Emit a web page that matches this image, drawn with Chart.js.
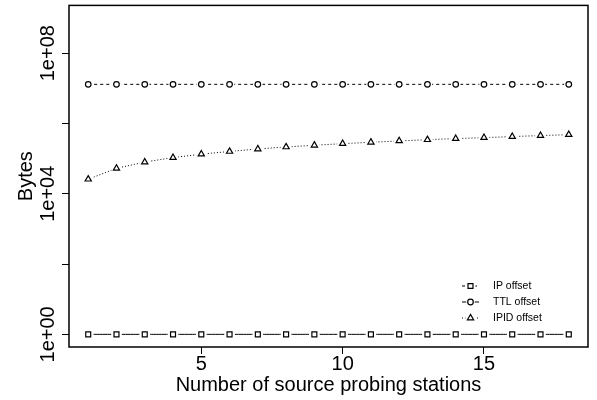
<!DOCTYPE html>
<html lang="en">
<head>
<meta charset="UTF-8">
<title>Bytes vs number of source probing stations</title>
<script src="https://cdn.jsdelivr.net/npm/chart.js@4.4.1/dist/chart.umd.min.js"></script>
<style>
    html, body { margin: 0; padding: 0; background: #fff; }
    #wrap { width: 597px; height: 400px; }
</style>
</head>
<body>
<div id="wrap"><canvas id="bytesChart" width="597" height="400"></canvas></div>
<script>
// data
const stations = [1, 2, 3, 4, 5, 6, 7, 8, 9, 10, 11, 12, 13, 14, 15, 16, 17, 18];
const ipOffset = [1, 1, 1, 1, 1, 1, 1, 1, 1, 1, 1, 1, 1, 1, 1, 1, 1, 1];
const ttlOffset = [1.3e7, 1.3e7, 1.3e7, 1.3e7, 1.3e7, 1.3e7, 1.3e7, 1.3e7, 1.3e7,
                   1.3e7, 1.3e7, 1.3e7, 1.3e7, 1.3e7, 1.3e7, 1.3e7, 1.3e7, 1.3e7];
const ipidOffset = [26000, 53000, 80000, 107000, 134000, 160000, 188000, 215000, 240000,
                    267000, 292000, 319000, 346000, 372000, 395000, 425000, 452000, 482000];
const xTicks = [5, 10, 15];
const yTicks = [1, 1e2, 1e4, 1e6, 1e8];
const yTickLabels = ['1e+00', '', '1e+04', '', '1e+08'];
const seriesNames = ['IP offset', 'TTL offset', 'IPID offset'];

const FONT = "'Liberation Sans', Arial, Helvetica, sans-serif";

function toPoints(values) {
    return stations.map((s, i) => ({ x: s, y: values[i] }));
}

// line, white halo (R type="b" gap), then the open marker on top
function series(name, values, style, dash, radius) {
    const pts = toPoints(values);
    return [
        { label: name, data: pts, borderColor: '#000', borderWidth: 1, borderDash: dash,
          tension: 0.0001, pointRadius: 0, fill: false, order: 3 },
        { label: name + ' halo', data: pts, showLine: false, pointStyle: 'circle',
          pointRadius: radius + 1.8, pointBackgroundColor: '#fff', pointBorderWidth: 0, order: 2 },
        { label: name + ' pts', data: pts, showLine: false, pointStyle: style,
          pointRadius: radius, pointBackgroundColor: '#fff', pointBorderColor: '#000',
          pointBorderWidth: 1.2, order: 1 }
    ];
}

const boxPlugin = {
    id: 'box',
    afterDraw(chart) {
        const a = chart.chartArea, ctx = chart.ctx;
        ctx.save();
        ctx.strokeStyle = '#000';
        ctx.lineWidth = 1.5;
        ctx.strokeRect(a.left, a.top, a.right - a.left, a.bottom - a.top);
        ctx.restore();
    }
};

// legend as drawn in R (bty="n"), lower right inside the plot
const legendStyles = [
    { style: 'rect', dash: [3, 3], radius: 3.5 },
    { style: 'circle', dash: [], radius: 2.8 },
    { style: 'triangle', dash: [1, 2], radius: 3.6 }
];
const legendPlugin = {
    id: 'rlegend',
    afterDraw(chart) {
        const ctx = chart.ctx;
        ctx.save();
        seriesNames.forEach((name, i) => {
            const y = 286 + i * 16;
            const st = legendStyles[i];
            ctx.strokeStyle = '#000';
            ctx.lineWidth = 1;
            ctx.setLineDash(st.dash);
            ctx.beginPath();
            ctx.moveTo(462, y);
            ctx.lineTo(479, y);
            ctx.stroke();
            ctx.setLineDash([]);
            ctx.fillStyle = '#fff';
            ctx.strokeStyle = '#fff';
            Chart.helpers.drawPoint(ctx, { pointStyle: 'circle', radius: st.radius + 1.5, borderWidth: 0 }, 470.5, y);
            ctx.strokeStyle = '#000';
            ctx.lineWidth = 1.2;
            Chart.helpers.drawPoint(ctx, { pointStyle: st.style, radius: st.radius, borderWidth: 1.2 }, 470.5, y);
            ctx.fillStyle = '#000';
            ctx.font = '10.5px ' + FONT;
            ctx.textAlign = 'left';
            ctx.textBaseline = 'middle';
            ctx.fillText(name, 493, y);
        });
        ctx.restore();
    }
};

new Chart(document.getElementById('bytesChart'), {
    type: 'line',
    data: {
        datasets: [
            ...series(seriesNames[0], ipOffset, 'rect', [], 3.5),
            ...series(seriesNames[1], ttlOffset, 'circle', [3, 3], 2.8),
            ...series(seriesNames[2], ipidOffset, 'triangle', [1, 2], 3.6)
        ]
    },
    options: {
        responsive: false,
        animation: false,
        devicePixelRatio: 1,
        layout: { padding: { top: 5, right: 9, left: 0, bottom: 0 } },
        plugins: { legend: { display: false }, tooltip: { enabled: false } },
        scales: {
            x: {
                type: 'linear',
                min: 0.32,
                max: 18.68,
                bounds: 'data',
                afterBuildTicks: s => { s.ticks = xTicks.map(v => ({ value: v })); },
                afterFit: s => { s.height = 53; },
                grid: { drawOnChartArea: false, tickLength: 7, color: '#000', lineWidth: 1 },
                border: { display: false },
                ticks: { font: { family: FONT, size: 20 }, color: '#000', padding: -2,
                         maxRotation: 0, autoSkip: false },
                title: { display: true, text: 'Number of source probing stations',
                         font: { family: FONT, size: 20 }, color: '#000',
                         padding: { top: 0, bottom: 3 } }
            },
            y: {
                type: 'logarithmic',
                min: Math.pow(10, -0.36),
                max: Math.pow(10, 9.36),
                bounds: 'data',
                afterBuildTicks: s => { s.ticks = yTicks.map(v => ({ value: v })); },
                afterFit: s => { s.width = 69; },
                grid: { drawOnChartArea: false, tickLength: 7, color: '#000', lineWidth: 1 },
                border: { display: false },
                ticks: {
                    callback: (v, i) => yTickLabels[i],
                    font: { family: FONT, size: 20 }, color: '#000',
                    minRotation: 90, maxRotation: 90, crossAlign: 'center',
                    padding: -15, autoSkip: false
                },
                title: { display: true, text: 'Bytes', font: { family: FONT, size: 20 },
                         color: '#000', padding: { top: 14, bottom: 0 } }
            }
        }
    },
    plugins: [boxPlugin, legendPlugin]
});
</script>
</body>
</html>
